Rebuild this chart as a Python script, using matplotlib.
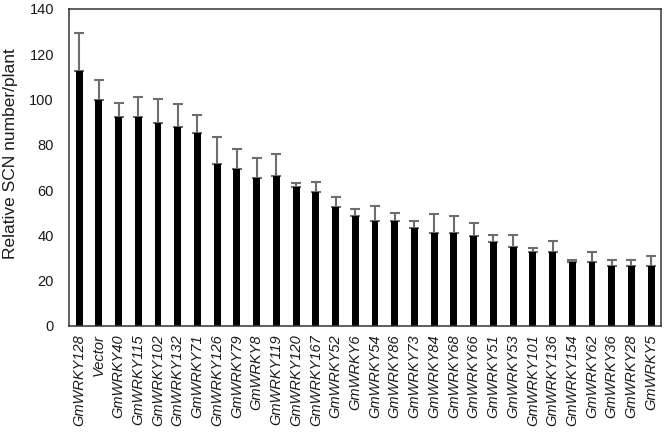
import matplotlib
matplotlib.use("Agg")
import matplotlib.pyplot as plt

plt.rcParams["font.family"] = ["Liberation Sans", "DejaVu Sans"]

# nombres de genes (orden del eje x)
genes = ["GmWRKY128", "Vector", "GmWRKY40", "GmWRKY115", "GmWRKY102",
         "GmWRKY132", "GmWRKY71", "GmWRKY126", "GmWRKY79", "GmWRKY8",
         "GmWRKY119", "GmWRKY120", "GmWRKY167", "GmWRKY52", "GmWRKY6",
         "GmWRKY54", "GmWRKY86", "GmWRKY73", "GmWRKY84", "GmWRKY68",
         "GmWRKY66", "GmWRKY51", "GmWRKY53", "GmWRKY101", "GmWRKY136",
         "GmWRKY154", "GmWRKY62", "GmWRKY36", "GmWRKY28", "GmWRKY5"]

# valor medio relativo
valores = [112.6, 99.8, 92.2, 92.2, 89.8, 87.6, 85.2, 71.6, 69.3, 65.4,
           66.3, 61.5, 59.3, 52.4, 48.6, 46.4, 46.4, 43.4, 41.2, 41.2,
           39.6, 37.2, 34.9, 32.7, 32.7, 28.1, 28.1, 26.5, 26.5, 26.5]

# error (solo hacia arriba)
errores = [16.7, 8.9, 6.4, 8.8, 10.5, 10.3, 8.1, 11.9, 8.9, 8.9,
           9.7, 1.5, 4.4, 4.4, 2.9, 6.6, 3.4, 2.7, 8.1, 7.4,
           5.7, 2.8, 5.1, 1.9, 5.0, 1.0, 4.4, 2.6, 2.6, 4.4]

yticks = [0, 20, 40, 60, 80, 100, 120, 140]

fig = plt.figure(figsize=(6.66, 4.41), dpi=100)
ax = fig.add_axes([0.104, 0.261, 0.8885, 0.719])

x = list(range(len(genes)))
ax.bar(x, valores, width=0.35, color="black", zorder=2)
ax.errorbar(x, valores, yerr=[[0] * len(errores), errores], fmt="none",
            ecolor="#6e6e6e", elinewidth=1.5, capsize=3.6, capthick=1.5,
            zorder=1)

ax.set_xlim(-0.5, len(genes) - 0.5)
ax.set_ylim(0, 140)
ax.set_yticks(yticks)
ax.set_xticks(x)
ax.set_xticklabels(genes, rotation=90, style="italic", fontsize=10.5,
                   color="#1a1a1a")

for s in ax.spines.values():
    s.set_color("#333333")
    s.set_linewidth(1.1)

ax.tick_params(axis="y", length=0, pad=11, labelsize=10.5, colors="#1a1a1a")
ax.tick_params(axis="x", length=0, pad=6)
ax.set_ylabel("Relative SCN number/plant", fontsize=12.5, color="#1a1a1a")
ax.yaxis.set_label_coords(-0.086, 0.543)

fig.savefig("out.png", dpi=100)
